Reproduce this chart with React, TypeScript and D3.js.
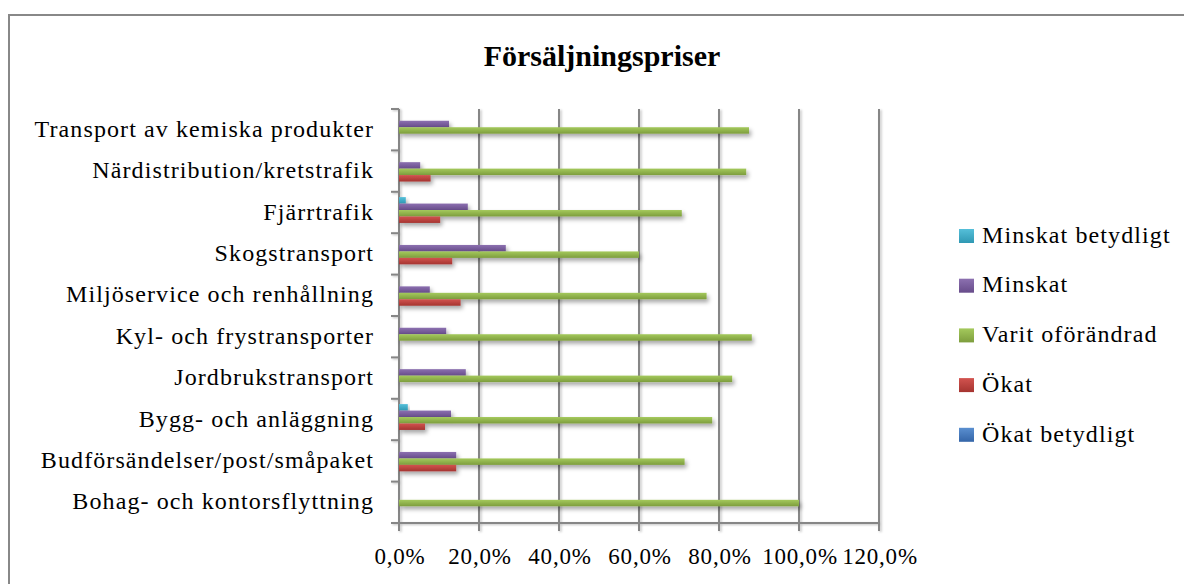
import React from "react";
import * as d3 from "d3";

const title = "Försäljningspriser";
const categories = [
  "Transport av kemiska produkter",
  "Närdistribution/kretstrafik",
  "Fjärrtrafik",
  "Skogstransport",
  "Miljöservice och renhållning",
  "Kyl- och frystransporter",
  "Jordbrukstransport",
  "Bygg- och anläggning",
  "Budförsändelser/post/småpaket",
  "Bohag- och kontorsflyttning",
];
const seriesNames = ["Minskat betydligt", "Minskat", "Varit oförändrad", "Ökat", "Ökat betydligt"];
const minskatBetydligt = [0, 0, 1.7, 0, 0, 0, 0, 2.2, 0, 0];
const minskat = [12.5, 5.3, 17.2, 26.7, 7.7, 11.8, 16.7, 13.0, 14.3, 0];
const varitOforandrad = [87.5, 86.8, 70.7, 60.0, 76.9, 88.2, 83.3, 78.3, 71.4, 100];
const okat = [0, 7.9, 10.3, 13.3, 15.4, 0, 0, 6.5, 14.3, 0];
const okatBetydligt = [0, 0, 0, 0, 0, 0, 0, 0, 0, 0];
const xTicks = [0, 20, 40, 60, 80, 100, 120];

const seriesValues = [minskatBetydligt, minskat, varitOforandrad, okat, okatBetydligt];
const colors = [
  ["#55bfd9", "#2f98b3"],
  ["#8c70b0", "#674c8a"],
  ["#a4c95c", "#7d9d3d"],
  ["#d2534f", "#a53430"],
  ["#5a8fd0", "#3465a8"],
];

const FONT = "'Liberation Serif', 'Times New Roman', serif";

export default function App() {
  const x = d3.scaleLinear().domain([0, 120]).range([399, 879]);
  const y = d3.scaleBand<string>().domain(categories).range([109, 523]).padding(0);
  const bw = y.bandwidth();
  const inner = d3.scaleBand<string>().domain(seriesNames).range([5.3, 5.3 + bw * 0.78]).padding(0);
  const fmt = (v: number) => d3.format(".1f")(v).replace(".", ",") + "%";

  return (
    <svg width={1184} height={584} style={{ position: "absolute", left: 0, top: 0, background: "#fff" }}>
      <defs>
        {colors.map((c, i) => (
          <linearGradient key={i} id={`g${i}`} x1="0" y1="0" x2="0" y2="1">
            <stop offset="0%" stopColor={c[0]} />
            <stop offset="100%" stopColor={c[1]} />
          </linearGradient>
        ))}
        <filter id="sh" x="-10%" y="-50%" width="130%" height="250%">
          <feDropShadow dx="2" dy="3" stdDeviation="2" floodColor="#000" floodOpacity="0.35" />
        </filter>
        <filter id="gsh" x="-50%" y="-2%" width="300%" height="104%">
          <feDropShadow dx="1.5" dy="1" stdDeviation="1" floodColor="#000" floodOpacity="0.25" />
        </filter>
      </defs>
      <rect x={9} y={15} width={1190} height={590} fill="#fff" stroke="#888" strokeWidth={2} />
      <text x={602} y={66} textAnchor="middle" fontFamily={FONT} fontWeight="bold" fontSize={30} fill="#000">
        {title}
      </text>

      {/* gridlines */}
      <g filter="url(#gsh)">
        {xTicks.map((t) => (
          <line key={t} x1={x(t)} x2={x(t)} y1={109} y2={531} stroke="#868686" strokeWidth={2} />
        ))}
        {categories.concat([""]).map((c, i) => {
          const yy = 109 + i * bw;
          return <line key={i} x1={391} x2={399} y1={yy} y2={yy} stroke="#868686" strokeWidth={2} />;
        })}
        <line x1={391} x2={880} y1={523} y2={523} stroke="#868686" strokeWidth={2} />
      </g>

      {/* bars */}
      {seriesValues.map((vals, si) => (
        <g key={si} filter="url(#sh)">
          {categories.map((c, ci) =>
            vals[ci] > 0 ? (
              <rect
                key={ci}
                x={x(0)}
                y={(y(c) as number) + (inner(seriesNames[si]) as number)}
                width={x(vals[ci]) - x(0)}
                height={inner.bandwidth()}
                fill={`url(#g${si})`}
              />
            ) : null
          )}
        </g>
      ))}

      {/* category labels */}
      {categories.map((c) => (
        <text
          key={c}
          x={374}
          y={(y(c) as number) + bw / 2 + 7}
          textAnchor="end"
          fontFamily={FONT}
          fontSize={24}
          letterSpacing={1.1}
          fill="#000"
        >
          {c}
        </text>
      ))}

      {/* x tick labels */}
      {xTicks.map((t) => (
        <text key={t} x={x(t) + 1} y={564} textAnchor="middle" fontFamily={FONT} fontSize={23} letterSpacing={0.8} fill="#000">
          {fmt(t)}
        </text>
      ))}

      {/* legend */}
      {seriesNames.map((s, i) => (
        <g key={s}>
          <rect x={959} y={229 + i * 49.7} width={15} height={14} fill={`url(#g${i})`} />
          <text x={982} y={242.7 + i * 49.7} fontFamily={FONT} fontSize={24} letterSpacing={1.1} fill="#000">
            {s}
          </text>
        </g>
      ))}
    </svg>
  );
}
